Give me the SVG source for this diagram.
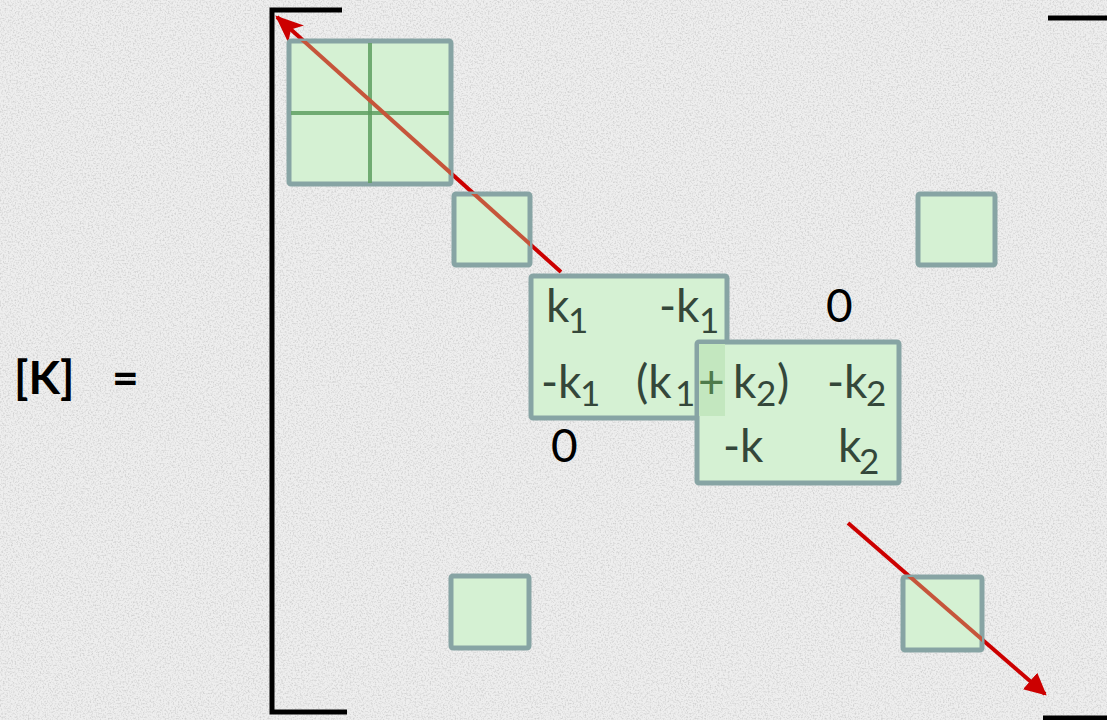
<svg xmlns="http://www.w3.org/2000/svg" width="1107" height="720" viewBox="0 0 1107 720">
<defs>
<filter id="noise" x="0" y="0" width="100%" height="100%">
<feTurbulence type="fractalNoise" baseFrequency="0.6" numOctaves="2" seed="3" result="t"/>
<feColorMatrix type="matrix" values="0 0 0 0 0.5  0 0 0 0 0.5  0 0 0 0 0.5  0 0 0 -2.6 1.45"/>
</filter>
<marker id="ah" viewBox="0 0 12 10" refX="11" refY="5" markerWidth="7" markerHeight="7" orient="auto" markerUnits="strokeWidth">
<path d="M0,0 L12,5 L0,10 L3,5 Z" fill="#cc0000"/>
</marker>
<marker id="ah2" viewBox="0 0 10 10" refX="9" refY="5" markerWidth="5.5" markerHeight="5.5" orient="auto" markerUnits="strokeWidth">
<path d="M0,0 L10,5 L0,10 Z" fill="#cc0000"/>
</marker>
<clipPath id="boxclip">
<rect x="289" y="41" width="162" height="143"/>
<rect x="454" y="194" width="76" height="71"/>
<rect x="903" y="577" width="79" height="73"/>
</clipPath>
</defs>
<style>
.box{fill:#d5f1d3;stroke:#87a4a4;stroke-width:5;}
.br{stroke:#000;stroke-width:5;fill:none;}
.m{font-family:Lato,"Liberation Sans",sans-serif;font-size:46px;fill:#34473a;}
.s{font-family:Lato,"Liberation Sans",sans-serif;font-size:35px;fill:#34473a;}
.z{font-family:Lato,"Liberation Sans",sans-serif;font-size:46px;fill:#000;}
.lbl{font-family:Lato,"Liberation Sans",sans-serif;font-size:46px;font-weight:bold;fill:#000;}
</style>
<rect width="1107" height="720" fill="#eeeeee"/>
<rect width="1107" height="720" filter="url(#noise)" opacity="0.55"/>

<g id="label">
<text class="lbl" x="14" y="394">[K]</text>
<text class="lbl" x="112" y="394">=</text>
</g>

<g id="brackets">
<path class="br" d="M342,10 H272 V712 H347"/>
<path class="br" d="M1048,18 H1107"/>
<path class="br" d="M1043,718 H1107"/>
</g>

<g id="connectors">
<line x1="561" y1="272" x2="277" y2="17" stroke="#cc0000" stroke-width="4" marker-end="url(#ah)"/>
<line x1="848" y1="523" x2="1045" y2="694" stroke="#cc0000" stroke-width="4" marker-end="url(#ah2)"/>
</g>

<g id="node-big">
<rect class="box" x="289" y="41" width="162" height="143" rx="2"/>
<line x1="370" y1="43" x2="370" y2="183" stroke="#5f9f62" stroke-width="4" opacity="0.85"/>
<line x1="291" y1="113" x2="449" y2="113" stroke="#5f9f62" stroke-width="4" opacity="0.85"/>
</g>
<g id="node-b2"><rect class="box" x="454" y="194" width="76" height="71" rx="2"/></g>
<g id="node-tr"><rect class="box" x="918" y="194" width="77" height="71" rx="2"/></g>
<g id="node-bl"><rect class="box" x="451" y="576" width="78" height="72" rx="2"/></g>
<g id="node-br"><rect class="box" x="903" y="577" width="79" height="73" rx="2"/></g>

<g id="connector-overlay" clip-path="url(#boxclip)">
<line x1="561" y1="272" x2="277" y2="17" stroke="#c6553b" stroke-width="4"/>
<line x1="848" y1="523" x2="1045" y2="694" stroke="#c6553b" stroke-width="4"/>
</g>

<g id="node-k1">
<rect class="box" x="531" y="276" width="196" height="142" rx="2"/>
</g>
<g id="node-k2">
<rect class="box" x="697" y="342" width="202" height="141" rx="2"/>
<rect x="699" y="344" width="26" height="72" fill="#c3e7bf"/>
</g>

<g id="entries">
<text class="m" x="546" y="322">k</text><text class="s" x="568" y="333">1</text>
<text class="m" x="659" y="322">-k</text><text class="s" x="699" y="333">1</text>
<text class="z" x="826" y="322">0</text>
<text class="m" x="541" y="398">-k</text><text class="s" x="580" y="406">1</text>
<text class="m" x="636" y="398">(k</text><text class="s" x="675" y="406">1</text>
<text class="m" x="698" y="398" style="fill:#4d7a4a">+</text>
<text class="m" x="733" y="398">k</text><text class="s" x="756" y="406">2</text><text class="m" x="777" y="398">)</text>
<text class="m" x="827" y="398">-k</text><text class="s" x="866" y="406">2</text>
<text class="z" x="551" y="462">0</text>
<text class="m" x="723" y="462">-k</text>
<text class="m" x="838" y="462">k</text><text class="s" x="859" y="474">2</text>
</g>
</svg>
